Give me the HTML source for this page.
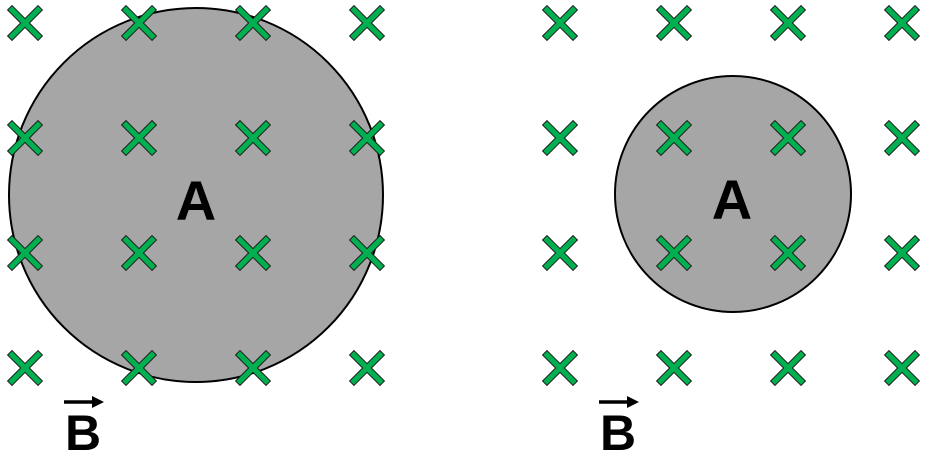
<!DOCTYPE html>
<html><head><meta charset="utf-8"><style>
html,body{margin:0;padding:0;background:#fff;width:929px;height:459px;overflow:hidden}
text{font-family:"Liberation Sans","DejaVu Sans",sans-serif;font-weight:bold}
</style></head><body>
<svg width="929" height="459" viewBox="0 0 929 459">
<defs>
<g id="xm">
<path transform="scale(0.88)" d="M-19.8,-14.8 L-14.8,-19.8 L0,-5 L14.8,-19.8 L19.8,-14.8 L5,0 L19.8,14.8 L14.8,19.8 L0,5 L-14.8,19.8 L-19.8,14.8 L-5,0 Z" fill="#00b050" stroke="#1a1a1a" stroke-width="1.1"/>
</g>
</defs>
<circle cx="196" cy="195" r="187" fill="#a6a6a6" stroke="#000" stroke-width="2"/>
<circle cx="733" cy="194" r="118" fill="#a6a6a6" stroke="#000" stroke-width="2"/>
<g id="fields"></g>
<text x="196" y="220" font-size="56" text-anchor="middle">A</text>
<text x="732" y="219" font-size="56" text-anchor="middle">A</text>
<g>
<line x1="64" y1="402" x2="94" y2="402" stroke="#000" stroke-width="3.5"/>
<polygon points="92,396 104,402 92,408" fill="#000"/>
<text x="83" y="450" font-size="50" text-anchor="middle">B</text>
</g>
<g>
<line x1="599" y1="402" x2="629" y2="402" stroke="#000" stroke-width="3.5"/>
<polygon points="627,396 639,402 627,408" fill="#000"/>
<text x="618" y="450" font-size="50" text-anchor="middle">B</text>
</g>
</svg>
<script>
const xsLeft=[25,139,253,367];
const xsRight=[560,674,788,902];
const ys=[23,138,253,368];
const g=document.getElementById('fields');
[xsLeft,xsRight].forEach(xs=>{
  ys.forEach(y=>xs.forEach(x=>{
    const u=document.createElementNS('http://www.w3.org/2000/svg','use');
    u.setAttribute('href','#xm');
    u.setAttribute('transform','translate('+x+','+y+')');
    
    
    g.appendChild(u);
  }));
});
</script>
</body></html>
